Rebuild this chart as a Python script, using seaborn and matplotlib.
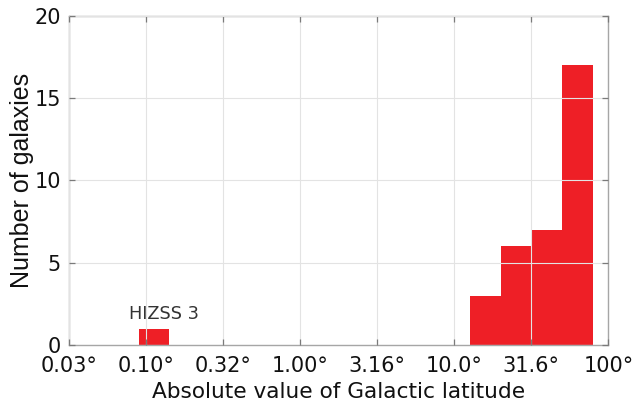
import numpy as np
import matplotlib
matplotlib.use("Agg")
import matplotlib.pyplot as plt
import seaborn as sns

# Histogram of |b| in log10(degrees); counts per bin
bin_edges_log = [-1.05, -0.85, 1.1, 1.3, 1.5, 1.7, 1.9]
bin_centers_log = [-0.95, 1.2, 1.4, 1.6, 1.8]
counts = [1, 3, 6, 7, 17]

xtick_pos = [-1.5, -1.0, -0.5, 0.0, 0.5, 1.0, 1.5, 2.0]
xtick_labels = ["0.03°", "0.10°", "0.32°", "1.00°", "3.16°", "10.0°", "31.6°", "100°"]
ytick_pos = [0, 5, 10, 15, 20]

annot_text = "HIZSS 3"
annot_x, annot_y = -0.885, 1.6

sns.set_theme(style="white")
plt.rcParams["font.family"] = ["DejaVu Sans"]

fig = plt.figure(figsize=(6.39, 4.08), dpi=100)
ax = fig.add_axes([0.1085, 0.1544, 0.8435, 0.8071])

sns.histplot(x=bin_centers_log, weights=counts, bins=bin_edges_log,
             color="#ee1f26", alpha=1.0, linewidth=0, ax=ax)

ax.set_xlim(-1.5, 2.0)
ax.set_ylim(0, 20)
ax.set_xticks(xtick_pos)
ax.set_xticklabels(xtick_labels)
ax.set_yticks(ytick_pos)

ax.grid(True, color="#e3e3e3", linewidth=0.8)
ax.set_axisbelow(False)

for s in ax.spines.values():
    s.set_visible(True)
    s.set_color("#a6a6a6")
    s.set_linewidth(1.0)

ax.tick_params(axis="both", which="both", direction="in", length=4, width=0.9,
               color="#7a7a7a", labelsize=15, labelcolor="#111111",
               top=True, right=True, bottom=True, left=True)
ax.tick_params(axis="x", pad=8)
ax.tick_params(axis="y", pad=6)

ax.set_xlabel("Absolute value of Galactic latitude", fontsize=15.6, color="#111111", labelpad=4)
ax.set_ylabel("Number of galaxies", fontsize=18, color="#111111",
              family="Liberation Sans")
ax.yaxis.set_label_coords(-0.066, 0.5)

ax.text(annot_x, annot_y, annot_text, ha="center", va="baseline",
        fontsize=12.8, color="#333333")

fig.savefig("out.png", dpi=100)
